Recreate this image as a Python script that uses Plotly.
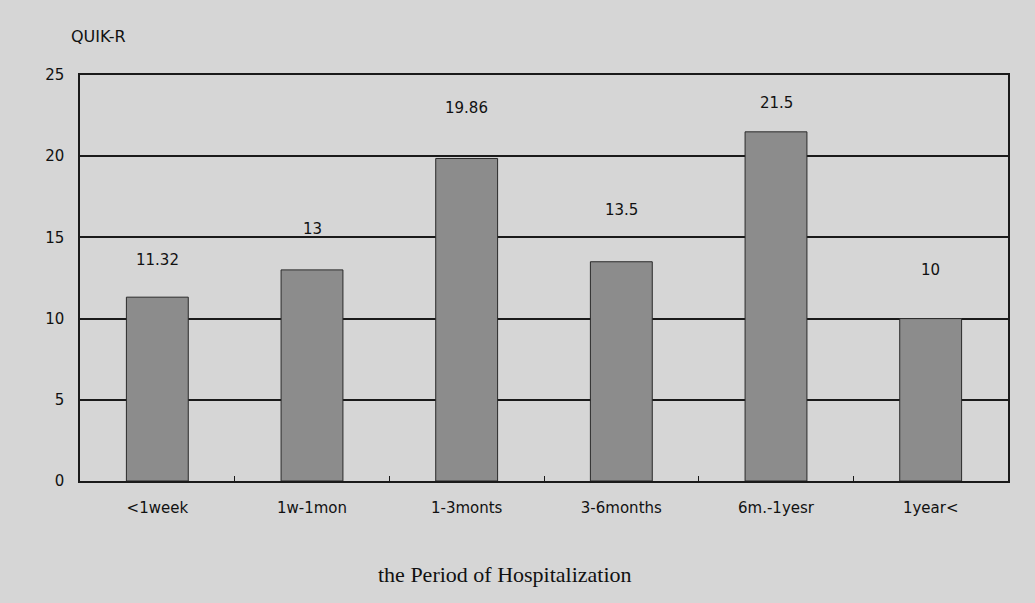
import plotly.graph_objects as go

categories = ["<1week", "1w-1mon", "1-3monts", "3-6months", "6m.-1yesr", "1year<"]
values = [11.32, 13, 19.86, 13.5, 21.5, 10]
value_labels = ["11.32", "13", "19.86", "13.5", "21.5", "10"]
label_shift = [37, 41, 50, 52, 29, 49]
y_ticks = [0, 5, 10, 15, 20, 25]

bg = "#d6d6d6"
bar_col = "#8c8c8c"
txt = "#111111"
font_sans = "DejaVu Sans, Verdana, sans-serif"

fig = go.Figure()
fig.add_trace(go.Bar(
    x=categories, y=values,
    marker=dict(color=bar_col, line=dict(color="#2a2a2a", width=1)),
    width=0.4, showlegend=False, hoverinfo="skip",
))

for c, v, lab, s in zip(categories, values, value_labels, label_shift):
    fig.add_annotation(x=c, y=v, text=lab, showarrow=False, yanchor="middle",
                       yshift=s, font=dict(family=font_sans, size=15, color=txt))

fig.add_annotation(xref="paper", yref="paper", x=-0.012, y=1.094, text="QUIK-R",
                   showarrow=False, xanchor="left", yanchor="middle",
                   font=dict(family=font_sans, size=16, color=txt))

fig.add_annotation(xref="paper", yref="paper", x=0.458, y=-0.231,
                   text="the Period of Hospitalization", showarrow=False,
                   xanchor="center", yanchor="middle",
                   font=dict(family="Liberation Serif, Times New Roman, serif", size=22, color=txt))

fig.update_layout(
    width=1035, height=603,
    paper_bgcolor=bg, plot_bgcolor=bg,
    margin=dict(l=80, r=27, t=75, b=122),
    bargap=0.6,
    xaxis=dict(
        showline=True, linecolor="#1a1a1a", linewidth=1.5, mirror=True,
        ticks="inside", ticklen=5, tickcolor="#1a1a1a", tickson="boundaries",
        ticklabelstandoff=12,
        tickfont=dict(family=font_sans, size=15, color=txt),
        showgrid=False,
    ),
    yaxis=dict(
        range=[0, 25], tickvals=y_ticks, showline=True, linecolor="#1a1a1a",
        linewidth=1.5, mirror=True, showgrid=True, gridcolor="#1a1a1a", gridwidth=1.5,
        zeroline=False, ticks="", ticklabelstandoff=11,
        tickfont=dict(family=font_sans, size=15, color=txt),
    ),
)

fig.write_html("out.html", config={"displayModeBar": False},
               post_script="document.body.style.margin='0';")
